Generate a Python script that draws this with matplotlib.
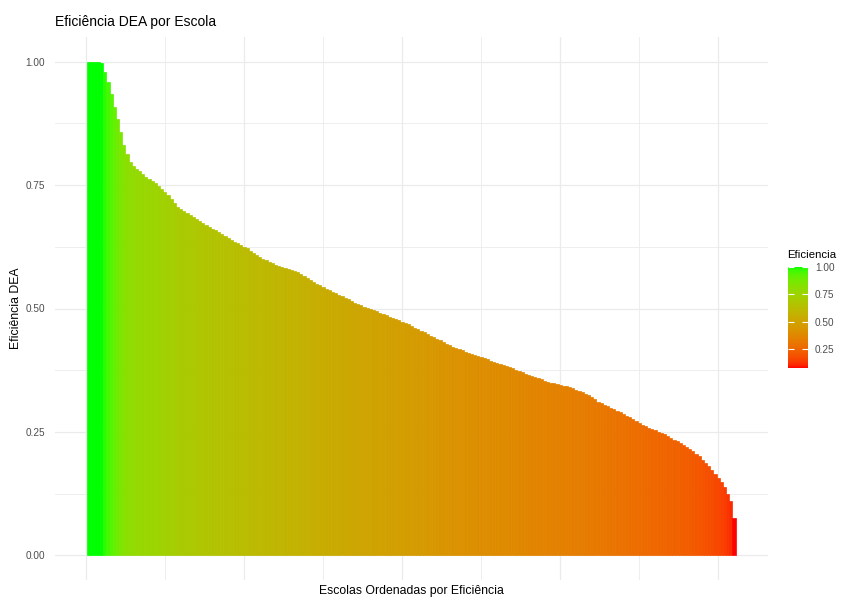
"""Eficiencia DEA por escola -- barras ordenadas com gradiente vermelho->verde."""
import numpy as np
import matplotlib
matplotlib.use("Agg")
import matplotlib.pyplot as plt
from matplotlib.colors import ListedColormap, Normalize
from matplotlib.cm import ScalarMappable

# eficiencia de cada escola, ja ordenada
EFICIENCIA = [
    1.000, 1.000, 1.000, 1.000, 0.997, 0.979, 0.958, 0.934, 0.908, 0.883,
    0.857, 0.831, 0.812, 0.796, 0.788, 0.783, 0.778, 0.772, 0.766, 0.763,
    0.759, 0.754, 0.749, 0.743, 0.736, 0.729, 0.722, 0.713, 0.705, 0.701,
    0.697, 0.693, 0.689, 0.686, 0.682, 0.678, 0.674, 0.670, 0.666, 0.662,
    0.659, 0.655, 0.651, 0.647, 0.643, 0.639, 0.635, 0.632, 0.628, 0.625,
    0.622, 0.616, 0.612, 0.608, 0.604, 0.601, 0.598, 0.595, 0.592, 0.589,
    0.587, 0.585, 0.582, 0.580, 0.577, 0.575, 0.573, 0.570, 0.566, 0.561,
    0.557, 0.554, 0.550, 0.547, 0.543, 0.540, 0.537, 0.534, 0.531, 0.528,
    0.525, 0.522, 0.519, 0.515, 0.512, 0.509, 0.507, 0.504, 0.501, 0.499,
    0.496, 0.494, 0.491, 0.488, 0.486, 0.483, 0.481, 0.478, 0.476, 0.473,
    0.471, 0.468, 0.464, 0.461, 0.458, 0.455, 0.452, 0.448, 0.445, 0.442,
    0.439, 0.436, 0.432, 0.429, 0.426, 0.423, 0.420, 0.418, 0.415, 0.412,
    0.410, 0.407, 0.405, 0.403, 0.401, 0.399, 0.397, 0.394, 0.392, 0.390,
    0.388, 0.386, 0.384, 0.381, 0.379, 0.376, 0.374, 0.371, 0.368, 0.365,
    0.363, 0.361, 0.359, 0.357, 0.354, 0.352, 0.350, 0.349, 0.347, 0.345,
    0.343, 0.342, 0.340, 0.338, 0.335, 0.333, 0.330, 0.327, 0.325, 0.321,
    0.316, 0.311, 0.308, 0.305, 0.302, 0.299, 0.296, 0.293, 0.290, 0.286,
    0.283, 0.280, 0.277, 0.273, 0.269, 0.265, 0.261, 0.258, 0.255, 0.253,
    0.250, 0.247, 0.245, 0.241, 0.238, 0.234, 0.231, 0.227, 0.223, 0.220,
    0.216, 0.211, 0.206, 0.201, 0.194, 0.187, 0.180, 0.173, 0.165, 0.156,
    0.148, 0.138, 0.125, 0.110, 0.075,
]
Y_TICKS = [0.0, 0.25, 0.50, 0.75, 1.00]
LEGEND_TICKS = [0.25, 0.50, 0.75, 1.00]
LOW_COLOR = (1.0, 0.0, 0.0)    # vermelho
HIGH_COLOR = (0.0, 1.0, 0.0)   # verde

WHITE = np.array([0.95047, 1.0, 1.08883])
M = np.array([[0.4124564, 0.3575761, 0.1804375],
              [0.2126729, 0.7151522, 0.0721750],
              [0.0193339, 0.1191920, 0.9503041]])


def srgb_to_lab(rgb):
    c = np.asarray(rgb, float)
    lin = np.where(c <= 0.04045, c / 12.92, ((c + 0.055) / 1.055) ** 2.4)
    xyz = lin @ M.T / WHITE
    d = 6 / 29
    f = np.where(xyz > d ** 3, np.cbrt(xyz), xyz / (3 * d * d) + 4 / 29)
    return np.array([116 * f[1] - 16, 500 * (f[0] - f[1]), 200 * (f[1] - f[2])])


def lab_to_srgb(lab):
    L, a, b = lab[..., 0], lab[..., 1], lab[..., 2]
    fy = (L + 16) / 116
    f = np.stack([fy + a / 500, fy, fy - b / 200], axis=-1)
    d = 6 / 29
    xyz = np.where(f > d, f ** 3, 3 * d * d * (f - 4 / 29)) * WHITE
    lin = np.clip(xyz @ np.linalg.inv(M).T, 0, 1)
    rgb = np.where(lin <= 0.0031308, 12.92 * lin,
                   1.055 * lin ** (1 / 2.4) - 0.055)
    return np.clip(rgb, 0, 1)


def lab_ramp(lo, hi, n=256):
    """Gradiente interpolado em CIELAB (como scale_fill_gradient do ggplot)."""
    t = np.linspace(0, 1, n)[:, None]
    lab = srgb_to_lab(lo)[None, :] * (1 - t) + srgb_to_lab(hi)[None, :] * t
    return ListedColormap(lab_to_srgb(lab))


def main():
    vals = np.array(EFICIENCIA)
    n = len(vals)
    x = np.arange(1, n + 1)
    cmap = lab_ramp(LOW_COLOR, HIGH_COLOR)
    norm = Normalize(vmin=vals.min(), vmax=vals.max())
    colors = cmap(norm(vals))

    plt.rcParams["font.family"] = ["Liberation Sans", "DejaVu Sans"]
    W, H = 847, 599
    fig = plt.figure(figsize=(W / 100, H / 100), dpi=100)
    ax = fig.add_axes([55 / W, 1 - 580 / H, (768 - 55) / W, (580 - 37) / H])

    ax.bar(x, vals, width=1.0, color=colors, edgecolor=colors,
           linewidth=0.5, zorder=2)

    ax.set_xlim(0.5 - 0.05 * n, n + 0.5 + 0.05 * n)
    ax.set_ylim(-0.05, 1.05)
    ax.set_xticks([0, 50, 100, 150, 200])
    ax.set_xticks([25, 75, 125, 175], minor=True)
    ax.set_xticklabels([])
    ax.set_yticks(Y_TICKS)
    ax.set_yticks([0.125, 0.375, 0.625, 0.875], minor=True)
    ax.set_yticklabels([f"{v:.2f}" for v in Y_TICKS])
    ax.tick_params(which="both", length=0)
    ax.tick_params(axis="y", labelsize=7.2, labelcolor="#4D4D4D", pad=7)
    ax.grid(which="major", color="#EBEBEB", linewidth=0.9, zorder=0)
    ax.grid(which="minor", color="#EBEBEB", linewidth=0.6, zorder=0)
    for s in ax.spines.values():
        s.set_visible(False)

    fig.text(55 / W, 1 - 22 / H, "Eficiência DEA por Escola", fontsize=10,
             ha="left", va="center")
    fig.text(411.5 / W, 1 - 591 / H, "Escolas Ordenadas por Eficiência",
             fontsize=8.8, ha="center", va="center")
    fig.text(16 / W, 1 - 308 / H, "Eficiência DEA", fontsize=8.8,
             rotation=90, ha="center", va="center")

    # legenda (barra de cores)
    cax = fig.add_axes([788 / W, 1 - 368 / H, 20 / W, 101 / H])
    sm = ScalarMappable(norm=norm, cmap=cmap)
    cb = fig.colorbar(sm, cax=cax, ticks=LEGEND_TICKS)
    cb.outline.set_visible(False)
    cb.ax.set_yticklabels([f"{v:.2f}" for v in LEGEND_TICKS])
    cax.tick_params(axis="y", direction="in", length=4, width=0.8,
                    color="white", left=True, right=True,
                    labelsize=7.2, labelcolor="#4D4D4D", pad=5)
    fig.text(787 / W, 1 - 255 / H, "Eficiencia", fontsize=8.2,
             ha="left", va="center")

    fig.savefig("out.png", dpi=100)


if __name__ == "__main__":
    main()
